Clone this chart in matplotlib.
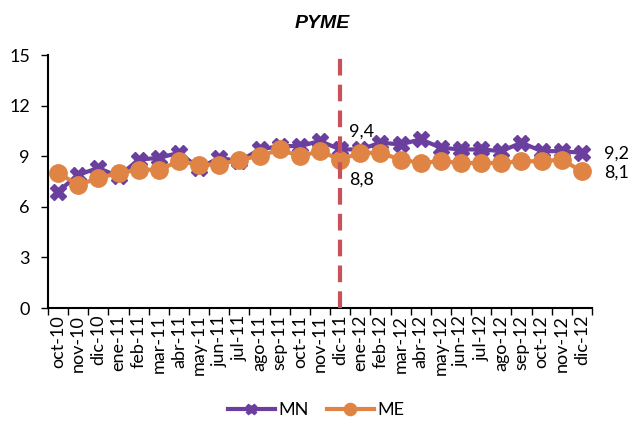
import matplotlib.pyplot as plt
import numpy as np

months = ['oct-10', 'nov-10', 'dic-10', 'ene-11', 'feb-11', 'mar-11', 'abr-11',
          'may-11', 'jun-11', 'jul-11', 'ago-11', 'sep-11', 'oct-11', 'nov-11',
          'dic-11', 'ene-12', 'feb-12', 'mar-12', 'abr-12', 'may-12', 'jun-12',
          'jul-12', 'ago-12', 'sep-12', 'oct-12', 'nov-12', 'dic-12']
mn = [6.9, 7.9, 8.3, 7.8, 8.8, 8.9, 9.2, 8.3, 8.9, 8.7, 9.4, 9.6, 9.6, 9.9,
      9.4, 9.4, 9.8, 9.7, 10.0, 9.5, 9.4, 9.4, 9.3, 9.8, 9.3, 9.3, 9.2]
me = [8.0, 7.3, 7.7, 8.0, 8.2, 8.2, 8.7, 8.5, 8.5, 8.8, 9.0, 9.4, 9.0, 9.3,
      8.8, 9.2, 9.2, 8.8, 8.6, 8.7, 8.6, 8.6, 8.6, 8.7, 8.7, 8.8, 8.1]
cut_month = 'dic-11'

plt.rcParams['font.family'] = ['Lato', 'DejaVu Sans']

purple = '#6A3F9E'
orange = '#DF8444'


def fmt(v):
    return f'{v:.1f}'.replace('.', ',')


fig = plt.figure(figsize=(6.32, 4.23), dpi=100)
ax = fig.add_axes([48/632, 1 - 308/423, 544/632, 253/423])

x = np.arange(len(months))
ax.plot(x, mn, color=purple, lw=3, marker='X', markersize=11, label='MN', zorder=3)
ax.plot(x, me, color=orange, lw=3, marker='o', markersize=12.5, label='ME', zorder=4)

xc = months.index(cut_month)
ax.plot([xc, xc], [0, 15], color='#C9525A', lw=3, dashes=(4, 2.2), zorder=5)

ax.text(xc + 0.45, mn[xc] + 1.05, fmt(mn[xc]), fontsize=13, ha='left', va='center')
ax.text(xc + 0.45, me[xc] - 1.2, fmt(me[xc]), fontsize=13, ha='left', va='center')
ax.text(x[-1] + 1.1, mn[-1] - 0.05, fmt(mn[-1]), fontsize=13, ha='left', va='center')
ax.text(x[-1] + 1.1, me[-1] - 0.05, fmt(me[-1]), fontsize=13, ha='left', va='center')

ax.set_xlim(-0.5, len(months) - 0.5)
ax.set_ylim(0, 15)
ax.set_yticks(np.arange(0, 16, 3))
ax.set_xticks(x)
ax.set_xticklabels(months, rotation=90, fontsize=13)
ax.set_xticks(np.arange(-0.5, len(months), 1), minor=True)
ax.tick_params(axis='x', which='major', length=0, pad=5)
ax.tick_params(axis='x', which='minor', length=5, width=1)
ax.tick_params(axis='y', length=5, width=1, labelsize=13, pad=8)
for s in ['top', 'right']:
    ax.spines[s].set_visible(False)
for s in ['left', 'bottom']:
    ax.spines[s].set_linewidth(1.5)

fig.text(0.51, 1 - 24/423, 'PYME', fontsize=14, fontweight='bold', fontstyle='italic',
         family='Liberation Sans', ha='center', va='center')

fig.legend(loc='center', bbox_to_anchor=(0.5, 1 - 410/423), ncol=2, frameon=False,
           fontsize=13, handlelength=2.6, columnspacing=1.0, handletextpad=0.2,
           markerscale=0.7)

fig.savefig('out.png', dpi=100)
